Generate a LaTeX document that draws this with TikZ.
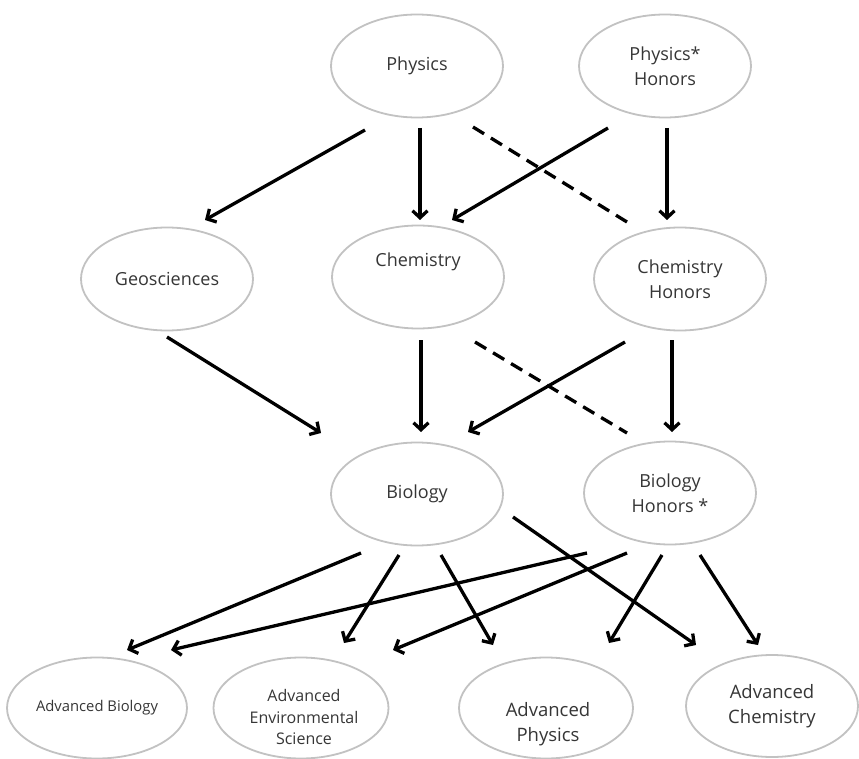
\documentclass[tikz,border=0pt]{standalone}
\usepackage{fontspec}
\setmainfont{Open Sans}
\usetikzlibrary{shapes.geometric,arrows.meta,calc}
\definecolor{txtc}{HTML}{363636}
\definecolor{rimc}{HTML}{C2C2C2}
\tikzset{
  ell/.style={ellipse, draw=rimc, line width=1.8pt, fill=white,
    minimum width=172pt, minimum height=103pt, inner sep=0pt,
    text=txtc, align=center, font=\fontsize{18}{25}\selectfont},
  lbl/.style={text=txtc, align=center, inner sep=0pt},
  arr/.style={line width=3.3pt, -{Straight Barb[length=7pt,width=15pt,line width=3.3pt]}},
  dsh/.style={line width=3.3pt, dash pattern=on 13pt off 8pt}
}
\begin{document}
\begin{tikzpicture}[x=1pt,y=-1pt]
\useasboundingbox (0,0) rectangle (859,759);
% top row
\node[ell] (phy) at (417,66) {Physics};
\node[ell] (phyh) at (665,66) {Physics*\\Honors};
% second row
\node[ell] (geo) at (167,279) {Geosciences};
\node[ell] (chem) at (418,277) {};
\node[lbl, font=\fontsize{18}{25}\selectfont] (chemt) at (418,262) {Chemistry};
\node[ell] (chemh) at (680,279) {Chemistry\\Honors};
% third row
\node[ell] (bio) at (417,494) {Biology};
\node[ell] (bioh) at (670,493) {Biology\\Honors *};
% bottom row
\node[ell, minimum width=180pt, minimum height=101pt, font=\fontsize{14.8}{20}\selectfont] (advbio) at (97,708) {Advanced Biology};
\node[ell, minimum width=175pt, minimum height=101pt] (advenv) at (301,708) {};
\node[lbl, font=\fontsize{16}{21.5}\selectfont] (advenvt) at (304,717) {Advanced\\Environmental\\Science};
\node[ell, minimum width=174pt, minimum height=101pt] (advphy) at (546,708) {};
\node[lbl, font=\fontsize{18.5}{25}\selectfont] (advphyt) at (548,724) {Advanced\\Physics};
\node[ell, minimum width=172pt, minimum height=102pt, font=\fontsize{18.5}{25}\selectfont] (advchem) at (772,706) {Advanced\\Chemistry};
% connectors: physics level
\draw[arr] ([shift={(-52,64)}]phy.center) -- ([shift={(38,-59)}]geo.center);
\draw[arr] ([shift={(3,62)}]phy.center) -- ([shift={(2,-57)}]chem.center);
\draw[dsh] ([shift={(56,61)}]phy.center) -- ([shift={(-53,-57)}]chemh.center);
\draw[arr] ([shift={(-57,62)}]phyh.center) -- ([shift={(34,-57)}]chem.center);
\draw[arr] ([shift={(2,62)}]phyh.center) -- ([shift={(-13,-59)}]chemh.center);
% chemistry level
\draw[arr] ([shift={(0,58)}]geo.center) -- ([shift={(-96,-61)}]bio.center);
\draw[arr] ([shift={(3,63)}]chem.center) -- ([shift={(4,-62)}]bio.center);
\draw[dsh] ([shift={(57,65)}]chem.center) -- ([shift={(-43,-60)}]bioh.center);
\draw[arr] ([shift={(-55,63)}]chemh.center) -- ([shift={(51,-62)}]bio.center);
\draw[arr] ([shift={(-8,61)}]chemh.center) -- ([shift={(2,-61)}]bioh.center);
% biology level
\draw[arr] ([shift={(-56,59)}]bio.center) -- ([shift={(30,-58)}]advbio.center);
\draw[arr] ([shift={(-18,61)}]bio.center) -- ([shift={(43,-65)}]advenv.center);
\draw[arr] ([shift={(24,61)}]bio.center) -- ([shift={(-53,-63)}]advphy.center);
\draw[arr] ([shift={(96,23)}]bio.center) -- ([shift={(-76,-61)}]advchem.center);
\draw[arr] ([shift={(-83,60)}]bioh.center) -- ([shift={(74,-58)}]advbio.center);
\draw[arr] ([shift={(-43,60)}]bioh.center) -- ([shift={(92,-58)}]advenv.center);
\draw[arr] ([shift={(-8,62)}]bioh.center) -- ([shift={(63,-65)}]advphy.center);
\draw[arr] ([shift={(30,62)}]bioh.center) -- ([shift={(-14,-61)}]advchem.center);
\end{tikzpicture}
\end{document}
